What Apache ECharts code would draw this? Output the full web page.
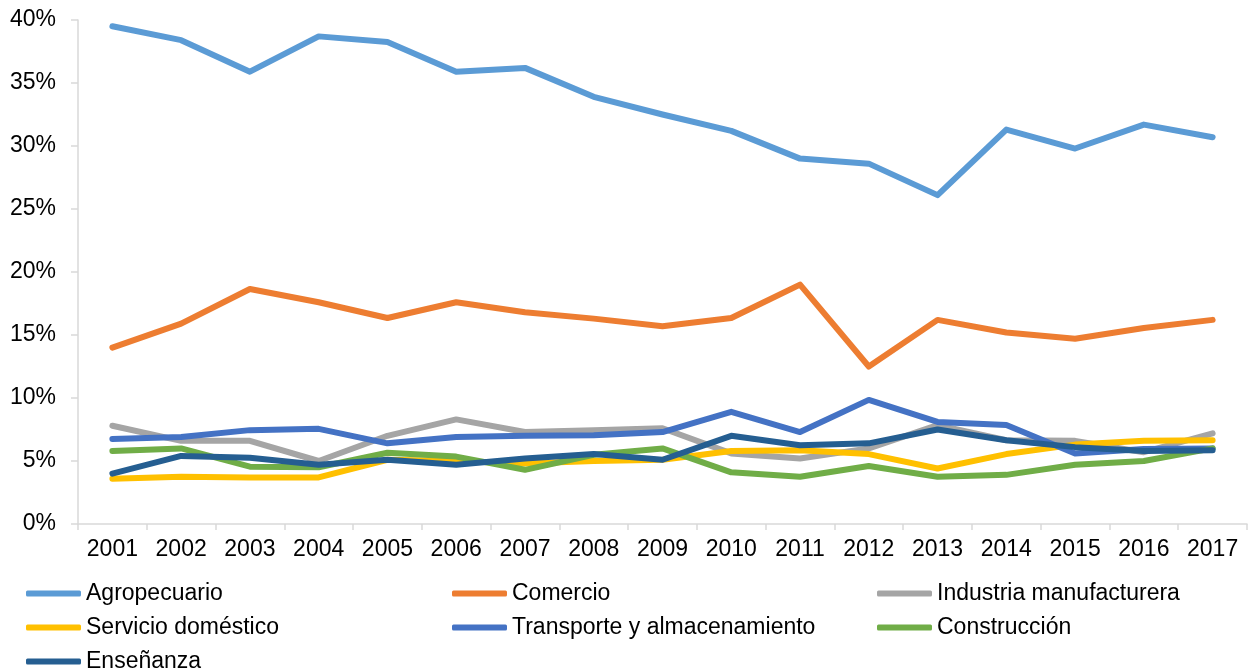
<!DOCTYPE html>
<html>
<head>
<meta charset="utf-8">
<script src="https://cdn.jsdelivr.net/npm/echarts@6/dist/echarts.min.js"></script>
<style>
  html, body { margin: 0; padding: 0; background: #fff; }
  #chart { width: 1259px; height: 671px; }
</style>
</head>
<body>
<div id="chart"></div>
<script>
var years = ['2001','2002','2003','2004','2005','2006','2007','2008','2009','2010','2011','2012','2013','2014','2015','2016','2017'];

var agropecuario = [39.5, 38.4, 35.9, 38.7, 38.25, 35.9, 36.2, 33.9, 32.5, 31.2, 29.0, 28.6, 26.1, 31.3, 29.8, 31.7, 30.7];
var comercio     = [14.0, 15.9, 18.65, 17.6, 16.35, 17.6, 16.8, 16.3, 15.7, 16.35, 19.0, 12.5, 16.2, 15.2, 14.7, 15.55, 16.2];
var industria    = [7.8, 6.6, 6.6, 5.0, 7.0, 8.3, 7.3, 7.45, 7.6, 5.6, 5.2, 6.0, 7.85, 6.65, 6.6, 5.7, 7.2];
var servicio     = [3.6, 3.75, 3.7, 3.7, 5.1, 5.0, 4.8, 5.0, 5.1, 5.8, 5.85, 5.55, 4.4, 5.55, 6.3, 6.6, 6.65];
var transporte   = [6.75, 6.9, 7.45, 7.55, 6.4, 6.9, 7.0, 7.05, 7.3, 8.9, 7.3, 9.85, 8.1, 7.85, 5.6, 5.95, 6.0];
var construccion = [5.8, 6.0, 4.55, 4.5, 5.65, 5.35, 4.3, 5.5, 6.0, 4.1, 3.75, 4.6, 3.75, 3.9, 4.7, 5.0, 6.0];
var ensenanza    = [4.0, 5.4, 5.25, 4.7, 5.1, 4.7, 5.2, 5.55, 5.1, 7.0, 6.25, 6.4, 7.5, 6.65, 6.1, 5.8, 5.85];

var names  = ['Agropecuario','Comercio','Industria manufacturera','Servicio doméstico','Transporte y almacenamiento','Construcción','Enseñanza'];
var values = [agropecuario, comercio, industria, servicio, transporte, construccion, ensenanza];
var colors = ['#5B9BD5','#ED7D31','#A5A5A5','#FFC000','#4472C4','#70AD47','#255E91'];

// legend slots: 3 columns, rows as in the original
var legendLeft = [21, 447, 872];
var legendTop  = [577, 611, 645];

var font = 'Arial, "Liberation Sans", sans-serif';

var series = names.map(function (n, i) {
  return {
    name: n,
    type: 'line',
    data: values[i],
    showSymbol: false,
    symbol: 'none',
    lineStyle: { width: 6, color: colors[i], cap: 'round', join: 'round' },
    itemStyle: { color: colors[i] },
    animation: false
  };
});

var legends = names.map(function (n, i) {
  return {
    left: legendLeft[i % 3],
    top: legendTop[Math.floor(i / 3)],
    itemWidth: 55,
    itemHeight: 6,
    icon: 'roundRect',
    data: [n],
    textStyle: { fontFamily: font, fontSize: 23, color: '#000' }
  };
});

var chart = echarts.init(document.getElementById('chart'));
chart.setOption({
  color: colors,
  animation: false,
  grid: { left: 78, right: 12, top: 20, bottom: 147, containLabel: false },
  legend: legends,
  xAxis: {
    type: 'category',
    data: years,
    boundaryGap: true,
    axisLine: { lineStyle: { color: '#D9D9D9', width: 1.5 } },
    axisTick: { show: true, length: 6, lineStyle: { color: '#D9D9D9', width: 1.5 } },
    axisLabel: { fontFamily: font, fontSize: 23, color: '#000', margin: 14 },
    splitLine: { show: false }
  },
  yAxis: {
    type: 'value',
    min: 0,
    max: 40,
    interval: 5,
    axisLine: { show: true, lineStyle: { color: '#D9D9D9', width: 1.5 } },
    axisTick: { show: true, length: 7, lineStyle: { color: '#D9D9D9', width: 1.5 } },
    axisLabel: { fontFamily: font, fontSize: 23, color: '#000', margin: 22, formatter: '{value}%' },
    splitLine: { show: false }
  },
  series: series
});
</script>
</body>
</html>
